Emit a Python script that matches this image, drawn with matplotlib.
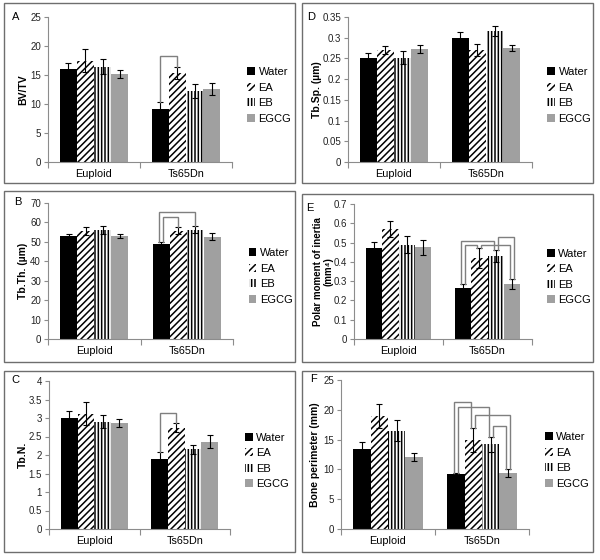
import matplotlib
matplotlib.use('Agg')
import matplotlib.pyplot as plt
from matplotlib.patches import Rectangle
import numpy as np

plt.rcParams['font.family'] = ['Liberation Sans', 'DejaVu Sans']
plt.rcParams['hatch.linewidth'] = 1.1

groups = ['Euploid', 'Ts65Dn']
treatments = ['Water', 'EA', 'EB', 'EGCG']

# ---- Panel A: BV/TV ----
bvtv_euploid = [16.1, 17.5, 16.4, 15.2]
bvtv_ts65dn = [9.2, 15.3, 12.2, 12.6]
bvtv_err_euploid = [1.0, 2.0, 1.3, 0.7]
bvtv_err_ts65dn = [1.1, 1.0, 1.2, 1.0]
bvtv_brackets = [(0, 1, 18.3)]

# ---- Panel D: Tb.Sp. ----
tbsp_euploid = [0.252, 0.270, 0.252, 0.273]
tbsp_ts65dn = [0.300, 0.270, 0.316, 0.276]
tbsp_err_euploid = [0.010, 0.010, 0.015, 0.009]
tbsp_err_ts65dn = [0.015, 0.014, 0.013, 0.007]
tbsp_brackets = []

# ---- Panel B: Tb.Th. ----
tbth_euploid = [53.0, 55.5, 56.0, 53.0]
tbth_ts65dn = [48.7, 55.7, 56.3, 52.7]
tbth_err_euploid = [1.2, 2.2, 2.0, 0.8]
tbth_err_ts65dn = [1.1, 1.8, 1.7, 1.7]
tbth_brackets = [(0, 1, 63.0), (0, 2, 65.2)]

# ---- Panel E: Polar moment of inertia ----
pmi_euploid = [0.47, 0.57, 0.49, 0.475]
pmi_ts65dn = [0.265, 0.42, 0.43, 0.285]
pmi_err_euploid = [0.035, 0.04, 0.045, 0.04]
pmi_err_ts65dn = [0.02, 0.05, 0.03, 0.025]
pmi_brackets = [(0, 1, 0.49), (0, 2, 0.51), (1, 3, 0.49), (2, 3, 0.53)]

# ---- Panel C: Tb.N. ----
tbn_euploid = [3.0, 3.12, 2.9, 2.86]
tbn_ts65dn = [1.88, 2.74, 2.15, 2.36]
tbn_err_euploid = [0.18, 0.30, 0.18, 0.10]
tbn_err_ts65dn = [0.21, 0.13, 0.13, 0.17]
tbn_brackets = [(0, 1, 3.14)]

# ---- Panel F: Bone perimeter ----
bp_euploid = [13.4, 19.0, 16.5, 12.1]
bp_ts65dn = [9.2, 14.9, 14.2, 9.4]
bp_err_euploid = [1.2, 2.0, 1.8, 0.7]
bp_err_ts65dn = [0.2, 2.0, 1.3, 0.6]
bp_brackets = [(0, 1, 21.3), (0, 2, 20.4), (1, 3, 19.2), (2, 3, 17.3)]

W, H = 600, 560
fig = plt.figure(figsize=(6, 5.6), dpi=100)

def fx(px):
    return px / W

def fy(py):
    return 1 - py / H

styles = [dict(facecolor='black', hatch=None),
          dict(facecolor='white', hatch='/////'),
          dict(facecolor='white', hatch='|||||'),
          dict(facecolor='#a0a0a0', hatch=None)]

panels = [
    dict(letter='A', ylabel='BV/TV', eu=bvtv_euploid, ts=bvtv_ts65dn,
         eeu=bvtv_err_euploid, ets=bvtv_err_ts65dn, br=bvtv_brackets,
         ymax=25, step=5, box=(4, 3, 295, 183), ax=(48, 17, 232, 162),
         lab=(12, 17), ylx=20, yfs=7.5),
    dict(letter='D', ylabel='Tb.Sp. (µm)', eu=tbsp_euploid, ts=tbsp_ts65dn,
         eeu=tbsp_err_euploid, ets=tbsp_err_ts65dn, br=tbsp_brackets,
         ymax=0.35, step=0.05, box=(302, 3, 593, 183), ax=(348, 17, 532, 162),
         lab=(307, 17), ylx=26, yfs=7.5),
    dict(letter='B', ylabel='Tb.Th. (µm)', eu=tbth_euploid, ts=tbth_ts65dn,
         eeu=tbth_err_euploid, ets=tbth_err_ts65dn, br=tbth_brackets,
         ymax=70, step=10, box=(4, 191, 295, 362), ax=(48, 203, 233, 339),
         lab=(14, 202), ylx=20, yfs=7.5),
    dict(letter='E', ylabel='Polar moment of inertia\n(mm⁴)', eu=pmi_euploid, ts=pmi_ts65dn,
         eeu=pmi_err_euploid, ets=pmi_err_ts65dn, br=pmi_brackets,
         ymax=0.7, step=0.1, box=(302, 194, 593, 362), ax=(354, 204, 532, 339),
         lab=(306, 208), ylx=20, yfs=7),
    dict(letter='C', ylabel='Tb.N.', eu=tbn_euploid, ts=tbn_ts65dn,
         eeu=tbn_err_euploid, ets=tbn_err_ts65dn, br=tbn_brackets,
         ymax=4, step=0.5, box=(4, 371, 295, 552), ax=(49, 381, 230, 529),
         lab=(11, 380), ylx=21, yfs=7.5),
    dict(letter='F', ylabel='Bone perimeter (mm)', eu=bp_euploid, ts=bp_ts65dn,
         eeu=bp_err_euploid, ets=bp_err_ts65dn, br=bp_brackets,
         ymax=25, step=5, box=(302, 371, 593, 552), ax=(341, 380, 529, 529),
         lab=(310, 379), ylx=21, yfs=7.5),
]

bw = 0.185
offsets = (np.arange(4) - 1.5) * bw
gray_axis = '#8c8c8c'
br_color = '#7f7f7f'

for p in panels:
    x0, y0, x1, y1 = p['box']
    fig.add_artist(Rectangle((fx(x0), fy(y1)), fx(x1 - x0), (y1 - y0) / H,
                             transform=fig.transFigure, fill=False,
                             edgecolor='#6e6e6e', linewidth=1.0))
    l, t, r, b = p['ax']
    ax = fig.add_axes([fx(l), fy(b), fx(r - l), (b - t) / H])
    vals = [p['eu'], p['ts']]
    errs = [p['eeu'], p['ets']]
    for k, name in enumerate(treatments):
        xs = np.arange(2) + offsets[k]
        hs = [vals[0][k], vals[1][k]]
        es = [errs[0][k], errs[1][k]]
        st = styles[k]
        ax.bar(xs, hs, width=bw, facecolor=st['facecolor'], hatch=st['hatch'],
               edgecolor='black' if st['hatch'] else st['facecolor'],
               linewidth=0, label=name, zorder=2)
        ax.errorbar(xs, hs, yerr=es, fmt='none', ecolor='black',
                    elinewidth=0.8, capsize=2.5, capthick=0.8, zorder=3)
    # significance brackets on Ts65Dn group
    legs = {}
    for bi, (i, j, h) in enumerate(p['br']):
        legs.setdefault(i, []).append((1, -h, bi, 'L'))
        legs.setdefault(j, []).append((0, h, bi, 'R'))
    legx = {}
    for bar, lst in legs.items():
        lst.sort()
        n = len(lst)
        for m, (_, _, bi, side) in enumerate(lst):
            legx[(bi, side)] = 1 + offsets[bar] + (m - (n - 1) / 2) * 0.04
    for bi, (i, j, h) in enumerate(p['br']):
        xl = legx[(bi, 'L')]
        xr = legx[(bi, 'R')]
        yl = p['ts'][i] + p['ets'][i]
        yr = p['ts'][j] + p['ets'][j]
        ax.plot([xl, xl, xr, xr], [yl, h, h, yr], color=br_color,
                linewidth=1.0, zorder=4, solid_joinstyle='miter')

    ax.set_xlim(-0.5, 1.5)
    ax.set_ylim(0, p['ymax'])
    ticks = np.round(np.arange(0, p['ymax'] + p['step'] / 2, p['step']), 4)
    ax.set_yticks(ticks)
    ax.set_yticklabels(['{:g}'.format(v) for v in ticks], fontsize=7)
    ax.set_xticks([0, 1])
    ax.set_xticklabels(groups, fontsize=7.8)
    ax.set_xticks([-0.5, 0.5, 1.5], minor=True)
    ax.tick_params(axis='x', which='major', length=0, pad=5)
    ax.tick_params(axis='x', which='minor', length=4, color=gray_axis, width=0.8)
    ax.tick_params(axis='y', length=3, color=gray_axis, width=0.8, pad=2)
    ax.tick_params(axis='y', labelcolor='#222222')
    for s in ['top', 'right']:
        ax.spines[s].set_visible(False)
    for s in ['left', 'bottom']:
        ax.spines[s].set_color(gray_axis)
        ax.spines[s].set_linewidth(0.8)
    ax.set_ylabel(p['ylabel'], fontsize=p['yfs'], fontweight='bold', linespacing=1.1)
    ax.yaxis.set_label_coords(-p['ylx'] / (r - l), 0.5)
    ax.patch.set_alpha(0)
    ax.legend(loc='center left', bbox_to_anchor=(1.06, 0.46), frameon=False,
              fontsize=8, handlelength=0.7, handleheight=0.7,
              handletextpad=0.3, labelspacing=0.5, borderaxespad=0)
    fig.text(fx(p['lab'][0]), fy(p['lab'][1]), p['letter'], fontsize=8,
             ha='left', va='center')

fig.savefig('out.png', dpi=100)
